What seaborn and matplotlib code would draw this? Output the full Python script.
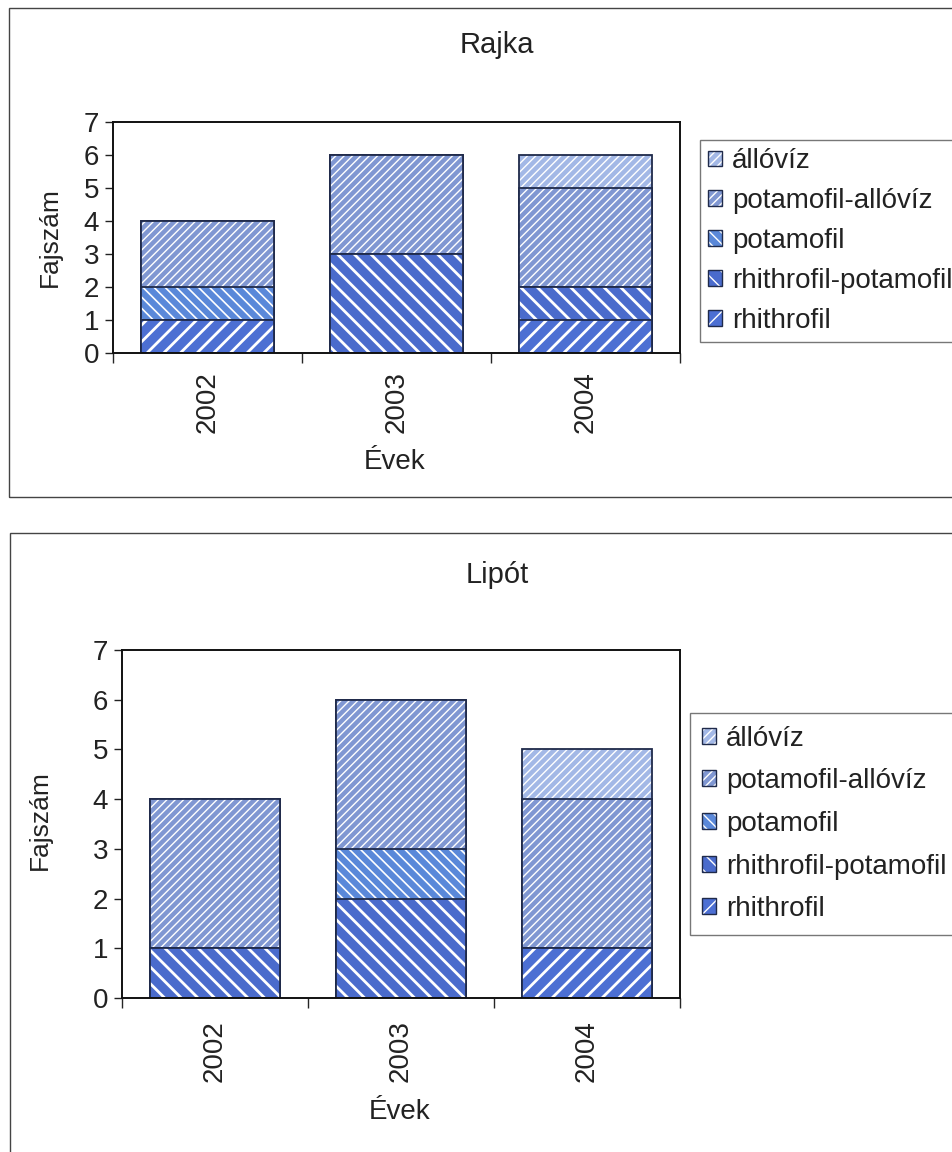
import matplotlib
matplotlib.use("Agg")
import matplotlib.pyplot as plt
import matplotlib.colors as mcolors
from matplotlib.patches import Rectangle, Patch
import numpy as np
import seaborn as sns

# ---------------- data ----------------
years = ["2002", "2003", "2004"]
categories = ["rhithrofil", "rhithrofil-potamofil", "potamofil",
              "potamofil-allóvíz", "állóvíz"]

rajka_rhithrofil = [1, 0, 1]
rajka_rhithro_potamo = [0, 3, 1]
rajka_potamofil = [1, 0, 0]
rajka_potamo_allo = [2, 3, 3]
rajka_allo = [0, 0, 1]

lipot_rhithrofil = [0, 0, 1]
lipot_rhithro_potamo = [1, 2, 0]
lipot_potamofil = [0, 1, 0]
lipot_potamo_allo = [3, 3, 3]
lipot_allo = [0, 0, 1]

titles = ["Rajka", "Lipót"]
ylabel = "Fajszám"
xlabel = "Évek"
yticks = [0, 1, 2, 3, 4, 5, 6, 7]

# ---------------- styles ----------------
styles = {
    "rhithrofil": ("#4c6fd3", "//", 2.0),
    "rhithrofil-potamofil": ("#4a6bcc", "\\\\", 2.0),
    "potamofil": ("#5a88d9", "\\\\\\", 1.2),
    "potamofil-allóvíz": ("#8097d2", "////", 1.0),
    "állóvíz": ("#a3b8e6", "////", 1.0),
}
EDGE = "#1f2a4a"
FS = 20

sns.set_style("white")
plt.rcParams["font.family"] = ["Liberation Sans", "DejaVu Sans"]
plt.rcParams["text.color"] = "#222222"

W, H = 953, 1152
fig = plt.figure(figsize=(W / 100, H / 100), dpi=100)
fig.patch.set_facecolor("white")


def axes_rect(x0, y0, x1, y1):
    return [x0 / W, 1 - y1 / H, (x1 - x0) / W, (y1 - y0) / H]


def set_hatch_style(p, color, lw):
    if hasattr(p, "set_hatchcolor"):
        try:
            p.set_hatchcolor(color)
        except Exception:
            p._hatch_color = mcolors.to_rgba(color)
    else:
        p._hatch_color = mcolors.to_rgba(color)
    if hasattr(p, "set_hatch_linewidth"):
        p.set_hatch_linewidth(lw)


def draw_panel(ax, series):
    cum = np.cumsum(np.array(series, dtype=float), axis=0)
    for i in range(len(categories) - 1, -1, -1):
        col, hatch, hlw = styles[categories[i]]
        n0 = len(ax.patches)
        with plt.rc_context({"hatch.linewidth": hlw}):
            sns.barplot(x=years, y=cum[i], color=col, saturation=1, width=0.7,
                        errorbar=None, hatch=hatch, edgecolor=EDGE,
                        linewidth=1.3, ax=ax)
        for p in ax.patches[n0:]:
            set_hatch_style(p, "white", hlw)


def style_axes(ax, pad_x):
    ax.set_xlim(-0.5, 2.5)
    ax.set_ylim(0, 7)
    ax.set_yticks(yticks)
    ax.set_yticklabels([str(v) for v in yticks])
    ax.set_xticks([0, 1, 2])
    ax.set_xticklabels(years, rotation=90)
    ax.set_xticks([-0.5, 0.5, 1.5, 2.5], minor=True)
    ax.tick_params(axis="y", which="major", length=6, width=1, direction="out",
                   labelsize=FS, pad=4, left=True, colors="#222222")
    ax.tick_params(axis="x", which="major", length=0, labelsize=FS, pad=pad_x,
                   colors="#222222")
    ax.tick_params(axis="x", which="minor", length=7, width=1, direction="out",
                   bottom=True)
    for s in ax.spines.values():
        s.set_visible(True)
        s.set_color("#111111")
        s.set_linewidth(1.4)
    ax.set_xlabel("")
    ax.set_ylabel("")
    ax.grid(False)


def make_legend(x, y, spacing, bpad):
    handles = []
    for c in categories[::-1]:
        col, hatch, hlw = styles[c]
        with plt.rc_context({"hatch.linewidth": hlw}):
            p = Patch(facecolor=col, hatch=hatch, edgecolor=EDGE, linewidth=1.0,
                      label=c)
        set_hatch_style(p, "white", hlw)
        handles.append(p)
    leg = fig.legend(handles=handles, loc="upper left",
                     bbox_to_anchor=(x / W, 1 - y / H),
                     bbox_transform=fig.transFigure, fontsize=FS,
                     frameon=True, fancybox=False, shadow=False,
                     edgecolor="#555555", handlelength=0.5, handleheight=0.5,
                     handletextpad=0.35, labelspacing=spacing, borderpad=bpad,
                     borderaxespad=0)
    leg.get_frame().set_linewidth(1.0)
    return leg


# panel frames
fig.add_artist(Rectangle((9 / W, 1 - 497 / H), 960 / W, 489 / H,
                         transform=fig.transFigure, fill=False,
                         edgecolor="#444444", linewidth=1.0))
fig.add_artist(Rectangle((10 / W, -0.05), 960 / W, (1 - 533 / H) + 0.05,
                         transform=fig.transFigure, fill=False,
                         edgecolor="#444444", linewidth=1.0))

# ---------------- top: Rajka ----------------
ax1 = fig.add_axes(axes_rect(113, 122, 680, 353))
draw_panel(ax1, [rajka_rhithrofil, rajka_rhithro_potamo, rajka_potamofil,
                 rajka_potamo_allo, rajka_allo])
style_axes(ax1, 13)
fig.text(497 / W, 1 - 45 / H, titles[0], ha="center", va="center", fontsize=21)
fig.text(395 / W, 1 - 462 / H, xlabel, ha="center", va="center", fontsize=FS)
fig.text(50 / W, 1 - 237 / H, ylabel, ha="center", va="center", fontsize=19,
         rotation=90)
make_legend(700, 140, 0.5, 0.3)

# ---------------- bottom: Lipót ----------------
ax2 = fig.add_axes(axes_rect(122, 650, 680, 998))
draw_panel(ax2, [lipot_rhithrofil, lipot_rhithro_potamo, lipot_potamofil,
                 lipot_potamo_allo, lipot_allo])
style_axes(ax2, 16)
fig.text(497 / W, 1 - 575 / H, titles[1], ha="center", va="center", fontsize=21)
fig.text(400 / W, 1 - 1112 / H, xlabel, ha="center", va="center", fontsize=FS)
fig.text(40 / W, 1 - 820 / H, ylabel, ha="center", va="center", fontsize=19,
         rotation=90)
make_legend(690, 713, 0.6, 0.45)

fig.savefig("out.png", dpi=100, facecolor="white")
